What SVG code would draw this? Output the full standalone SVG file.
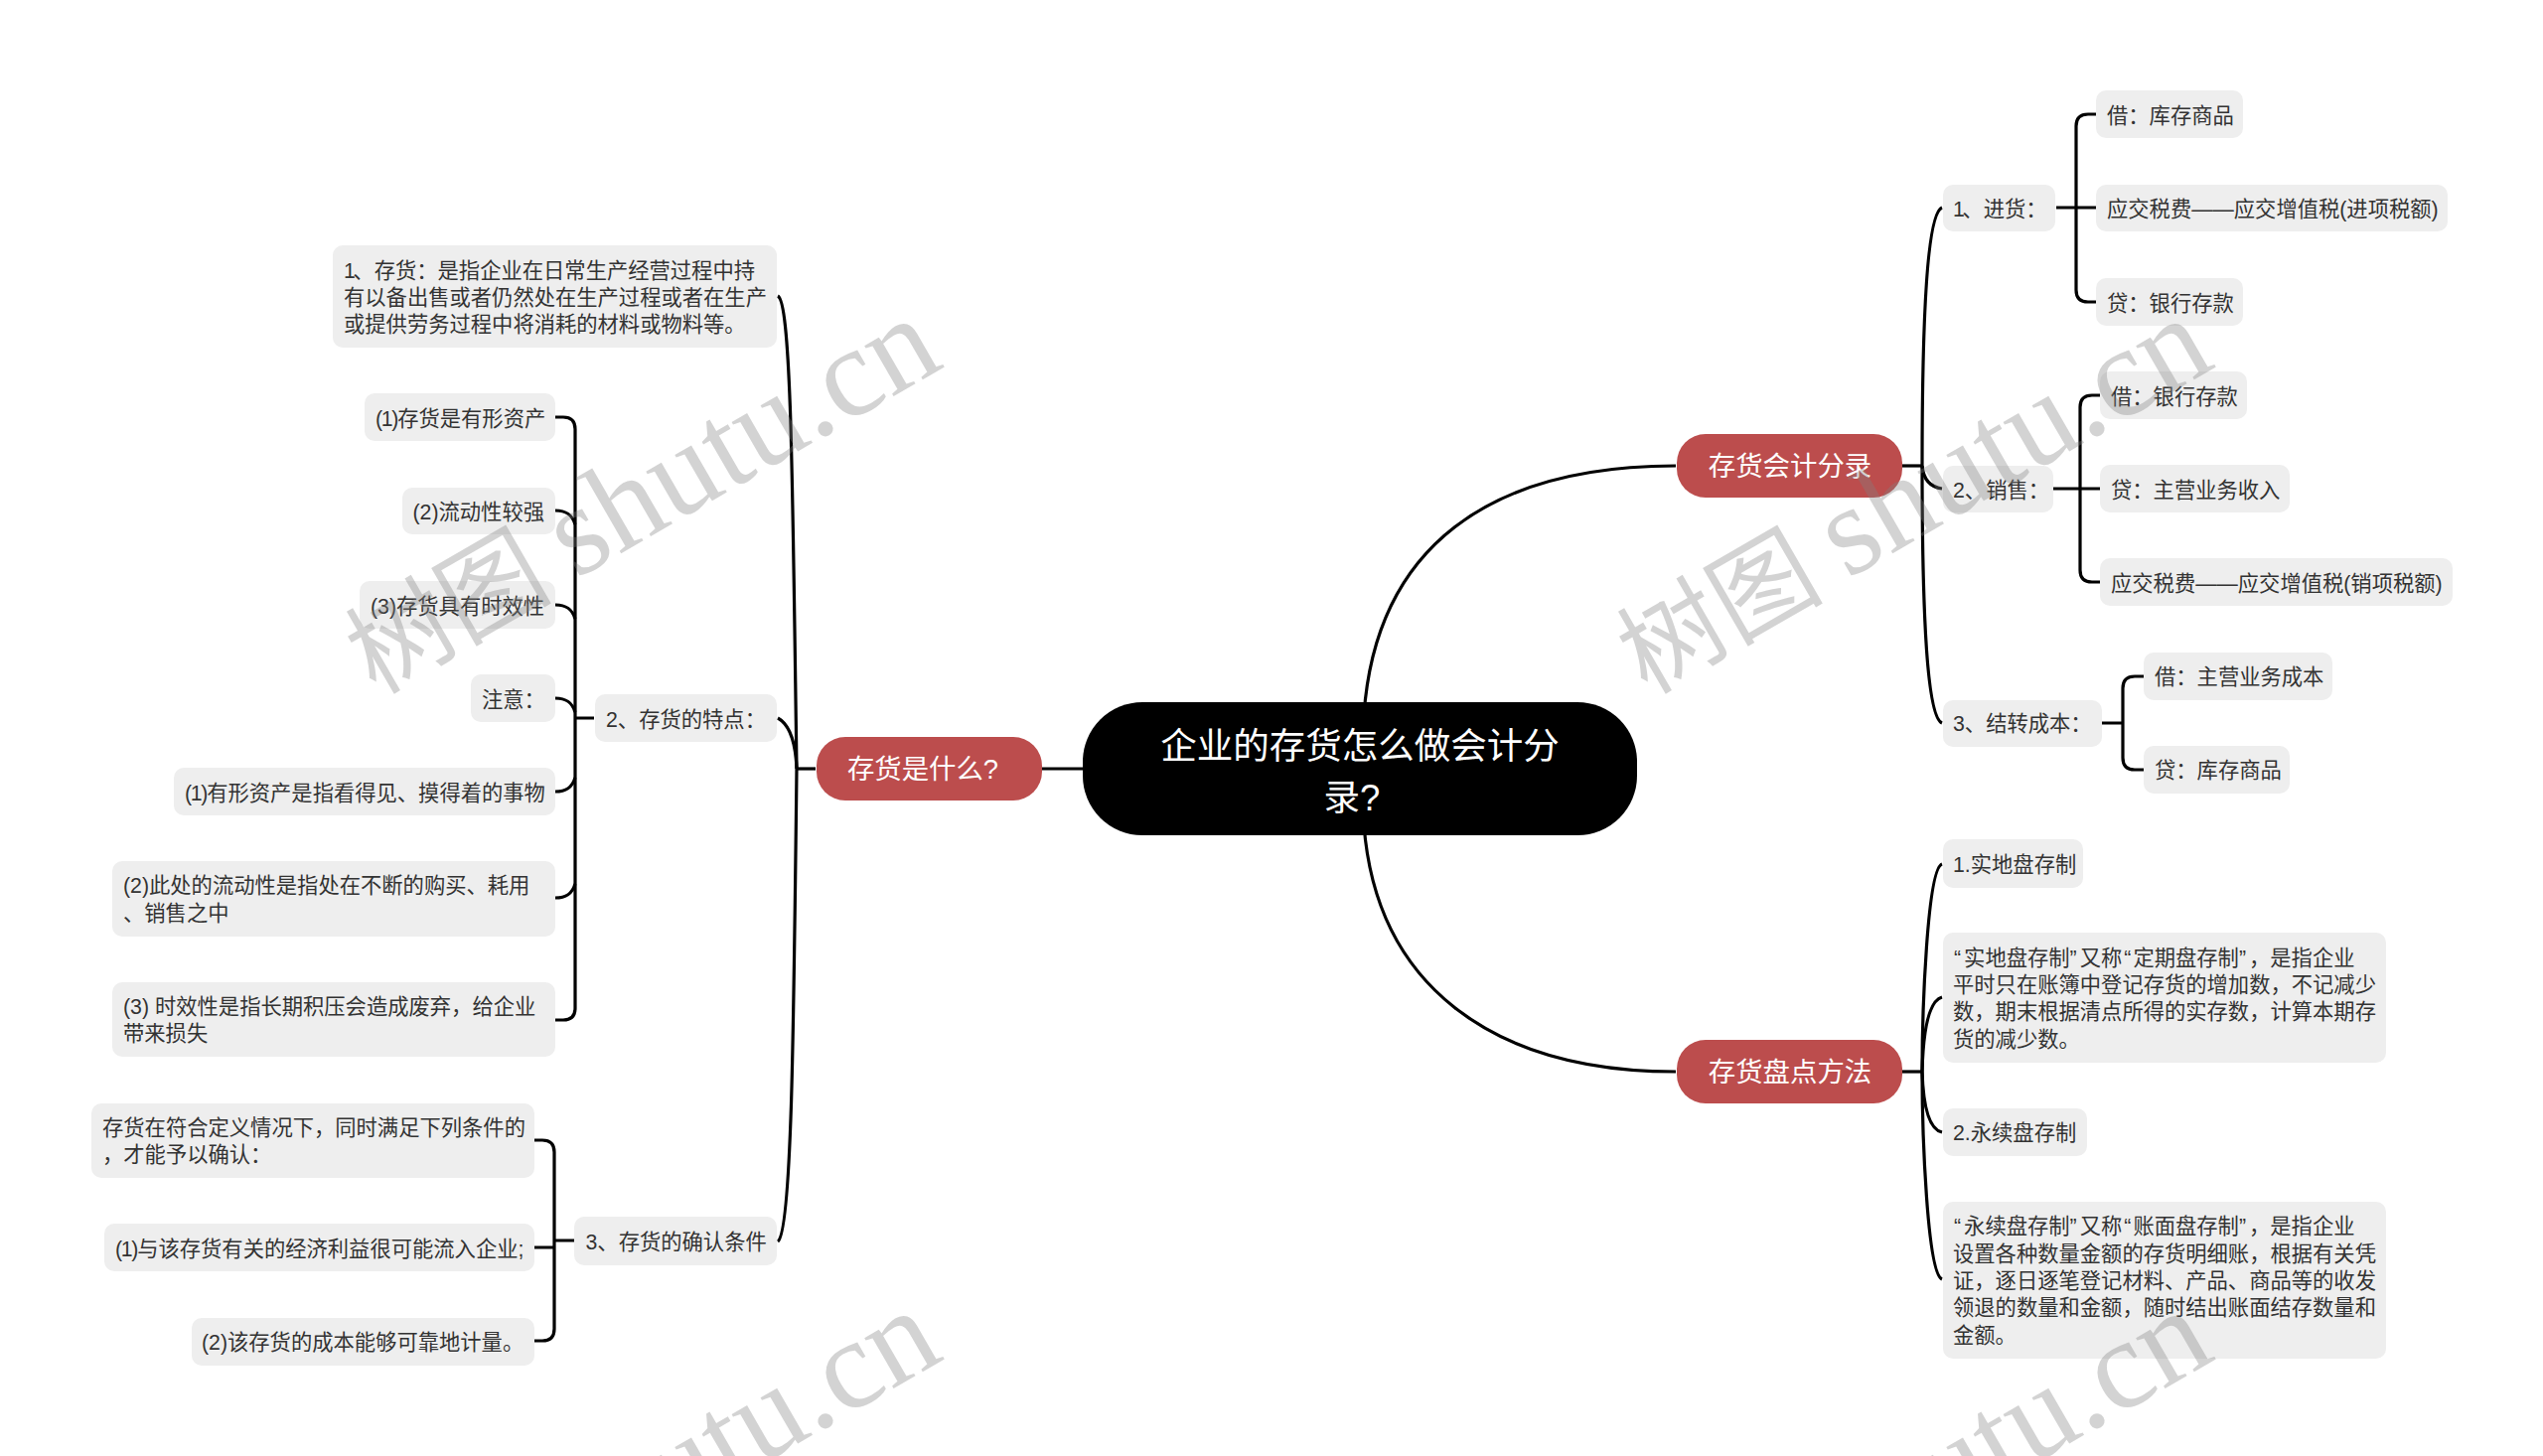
<svg xmlns="http://www.w3.org/2000/svg" width="2560" height="1466" viewBox="0 0 2560 1466">
<style>
text{font-family:"Liberation Sans","Noto Sans CJK SC",sans-serif}
.b{fill:#eeeeee}
.t{font-size:21.3px;fill:#333333;transform:translateY(.8px)}
.l{letter-spacing:-1.3px}
.o{letter-spacing:-2.5px}
.r{fill:#000000}
.rt{font-size:36.5px;fill:#ffffff;text-anchor:middle}
.m{fill:#bc4d4d}
.mt{font-size:27.4px;fill:#ffffff;text-anchor:middle}
.c{fill:none;stroke:#000000;stroke-width:3.2;stroke-linecap:butt}
.w{font-family:"Liberation Serif","Noto Sans CJK SC",serif;fill:#808080;fill-opacity:.35}
.wc{font-size:104px}
.wl{font-size:128px}
</style>
<rect width="2560" height="1466" fill="#ffffff"/>
<g id="connectors">
<path class="c" d="M1373 720C1385 550 1500 469 1687 469"/>
<path class="c" d="M1373 830C1385 990 1500 1079 1687 1079"/>
<path class="c" d="M1049 774H1100"/>
<path class="c" d="M1914 469H1935"/>
<path class="c" d="M1914 1079H1935"/>
<path class="c" d="M821 774H802"/>
<path class="c" d="M802 774C798 500 797 305 783 298"/>
<path class="c" d="M802 774C801 750 796 730 783 723"/>
<path class="c" d="M802 774C799 1040 797 1240 783 1250"/>
<path class="c" d="M1935 469C1935 320 1940 215 1955 209"/>
<path class="c" d="M1935 469C1936 480 1941 490 1955 492"/>
<path class="c" d="M1935 469C1935 620 1940 722 1955 728"/>
<path class="c" d="M1935 1079C1935 1020 1940 875 1955 870"/>
<path class="c" d="M1935 1079C1936 1040 1941 1008 1955 1004"/>
<path class="c" d="M1935 1079C1936 1110 1941 1137 1955 1140"/>
<path class="c" d="M1935 1079C1935 1140 1940 1282 1955 1288"/>
<path class="c" d="M2070 209H2110M2110 115H2102Q2090 115 2090 127V292Q2090 304 2102 304H2110"/>
<path class="c" d="M2067 492H2114M2114 398H2106Q2094 398 2094 410V574Q2094 586 2106 586H2114"/>
<path class="c" d="M2116 728H2137M2158 681H2149Q2137 681 2137 693V763Q2137 775 2149 775H2158"/>
<path class="c" d="M598 723H579M559 420H567Q579 420 579 432V1015Q579 1027 567 1027H559"/>
<path class="c" d="M559 514C570 514 576 518 579 528M559 609C570 609 576 613 579 623M559 703C570 703 576 707 579 717M559 797C570 797 576 793 579 783M559 904C570 904 576 900 579 890"/>
<path class="c" d="M578 1249H558M538 1148H546Q558 1148 558 1160V1338Q558 1350 546 1350H538M538 1256H558"/>
</g>
<g id="root"><rect class="r" x="1090" y="707" width="558" height="134" rx="60"/><text class="rt" x="1369" y="764">企业的存货怎么做会计分</text><text class="rt" x="1361" y="816">录?</text></g>
<g id="m1"><rect class="m" x="1688" y="437" width="227" height="64" rx="29"/><text class="mt" x="1802" y="479">存货会计分录</text></g>
<g id="m2"><rect class="m" x="1688" y="1047" width="227" height="64" rx="29"/><text class="mt" x="1802" y="1089">存货盘点方法</text></g>
<g id="m3"><rect class="m" x="822" y="742" width="227" height="64" rx="29"/><text class="mt" x="929" y="784">存货是什么?</text></g>
<g id="n1"><rect class="b" x="1956" y="186" width="113" height="47" rx="10"/><text class="t" x="1966" y="217"><tspan class="o">1</tspan>、进货：</text></g>
<g id="n2"><rect class="b" x="2110" y="91" width="148" height="48" rx="10"/><text class="t" x="2121" y="123">借：库存商品</text></g>
<g id="n3"><rect class="b" x="2110" y="186" width="354" height="47" rx="10"/><text class="t" x="2121" y="217">应交税费——应交增值税(进项税额)</text></g>
<g id="n4"><rect class="b" x="2110" y="280" width="148" height="48" rx="10"/><text class="t" x="2121" y="312">贷：银行存款</text></g>
<g id="n5"><rect class="b" x="1956" y="469" width="111" height="47" rx="10"/><text class="t" x="1966" y="500">2、销售：</text></g>
<g id="n6"><rect class="b" x="2114" y="374" width="148" height="48" rx="10"/><text class="t" x="2125" y="406">借：银行存款</text></g>
<g id="n7"><rect class="b" x="2114" y="468" width="191" height="48" rx="10"/><text class="t" x="2125" y="500">贷：主营业务收入</text></g>
<g id="n8"><rect class="b" x="2114" y="562" width="355" height="48" rx="10"/><text class="t" x="2125" y="594">应交税费——应交增值税(销项税额)</text></g>
<g id="n9"><rect class="b" x="1956" y="705" width="160" height="47" rx="10"/><text class="t" x="1966" y="735">3、结转成本：</text></g>
<g id="n10"><rect class="b" x="2158" y="657" width="190" height="48" rx="10"/><text class="t" x="2169" y="688">借：主营业务成本</text></g>
<g id="n11"><rect class="b" x="2158" y="751" width="147" height="48" rx="10"/><text class="t" x="2169" y="782">贷：库存商品</text></g>
<g id="n12"><rect class="b" x="1956" y="845" width="141" height="49" rx="10"/><text class="t" x="1966" y="877">1.实地盘存制</text></g>
<g id="n13"><rect class="b" x="1956" y="939" width="446" height="131" rx="10"/><text class="t"><tspan x="1967" y="971">“<tspan dx="3">实</tspan>地盘存制”<tspan dx="3">又</tspan>称<tspan dx="2">“</tspan><tspan dx="2">定</tspan>期盘存制”<tspan dx="3">，</tspan>是指企业</tspan><tspan x="1966" y="998.500">平时只在账簿中登记存货的增加数，不记减少</tspan><tspan x="1966" y="1025.500">数，期末根据清点所得的实存数，计算本期存</tspan><tspan x="1966" y="1053">货的减少数。</tspan></text></g>
<g id="n14"><rect class="b" x="1956" y="1116" width="145" height="48" rx="10"/><text class="t" x="1966" y="1147.500">2.永续盘存制</text></g>
<g id="n15"><rect class="b" x="1956" y="1210" width="446" height="158" rx="10"/><text class="t"><tspan x="1967" y="1241.500">“<tspan dx="3">永</tspan>续盘存制”<tspan dx="3">又</tspan>称<tspan dx="2">“</tspan><tspan dx="2">账</tspan>面盘存制”<tspan dx="3">，</tspan>是指企业</tspan><tspan x="1966" y="1269">设置各种数量金额的存货明细账，根据有关凭</tspan><tspan x="1966" y="1296.500">证，逐日逐笔登记材料、产品、商品等的收发</tspan><tspan x="1966" y="1323.500">领退的数量和金额，随时结出账面结存数量和</tspan><tspan x="1966" y="1351">金额。</tspan></text></g>
<g id="n16"><rect class="b" x="335" y="247" width="447" height="103" rx="10"/><text class="t"><tspan x="346" y="279"><tspan class="o">1</tspan>、存货：是指企业在日常生产经营过程中持</tspan><tspan x="346" y="306">有以备出售或者仍然处在生产过程或者在生产</tspan><tspan x="346" y="333.500">或提供劳务过程中将消耗的材料或物料等。</tspan></text></g>
<g id="n17"><rect class="b" x="599" y="699" width="183" height="48" rx="10"/><text class="t" x="610" y="731">2、存货的特点：</text></g>
<g id="n18"><rect class="b" x="367" y="396" width="192" height="48" rx="10"/><text class="t" x="378" y="428"><tspan class="l">(1)</tspan>存货是有形资产</text></g>
<g id="n19"><rect class="b" x="405" y="491" width="154" height="47" rx="10"/><text class="t" x="415.500" y="522">(2)流动性较强</text></g>
<g id="n20"><rect class="b" x="362" y="585" width="197" height="48" rx="10"/><text class="t" x="373" y="617">(3)存货具有时效性</text></g>
<g id="n21"><rect class="b" x="474" y="679" width="85" height="48" rx="10"/><text class="t" x="485" y="711">注意：</text></g>
<g id="n22"><rect class="b" x="175" y="773" width="384" height="48" rx="10"/><text class="t" x="186" y="805"><tspan class="l">(1)</tspan>有形资产是指看得见、摸得着的事物</text></g>
<g id="n23"><rect class="b" x="113" y="867" width="446" height="76" rx="10"/><text class="t"><tspan x="124" y="898.500">(2)此处的流动性是指处在不断的购买、耗用</tspan><tspan x="124" y="926">、销售之中</tspan></text></g>
<g id="n24"><rect class="b" x="113" y="989" width="446" height="75" rx="10"/><text class="t"><tspan x="124" y="1020.500">(3) 时效性是指长期积压会造成废弃，给企业</tspan><tspan x="124" y="1047.500">带来损失</tspan></text></g>
<g id="n25"><rect class="b" x="578" y="1225" width="204" height="49" rx="10"/><text class="t" x="589.500" y="1257">3、存货的确认条件</text></g>
<g id="n26"><rect class="b" x="92" y="1111" width="446" height="75" rx="10"/><text class="t"><tspan x="103" y="1142.500">存货在符合定义情况下，同时满足下列条件的</tspan><tspan x="103" y="1169.500">，才能予以确认：</tspan></text></g>
<g id="n27"><rect class="b" x="105" y="1232" width="433" height="48" rx="10"/><text class="t" x="116" y="1264"><tspan class="l">(1)</tspan>与该存货有关的经济利益很可能流入企业;</text></g>
<g id="n28"><rect class="b" x="193" y="1327" width="345" height="48" rx="10"/><text class="t" x="203" y="1358">(2)该存货的成本能够可靠地计量。</text></g>
<g id="watermark">
<text class="w" transform="translate(378 700) rotate(-30)"><tspan class="wc">树图 </tspan><tspan class="wl" x="233">shutu.cn</tspan></text>
<text class="w" transform="translate(1658 700) rotate(-30)"><tspan class="wc">树图 </tspan><tspan class="wl" x="233">shutu.cn</tspan></text>
<text class="w" transform="translate(378 1699) rotate(-30)"><tspan class="wc">树图 </tspan><tspan class="wl" x="233">shutu.cn</tspan></text>
<text class="w" transform="translate(1658 1699) rotate(-30)"><tspan class="wc">树图 </tspan><tspan class="wl" x="233">shutu.cn</tspan></text>
</g>
</svg>
